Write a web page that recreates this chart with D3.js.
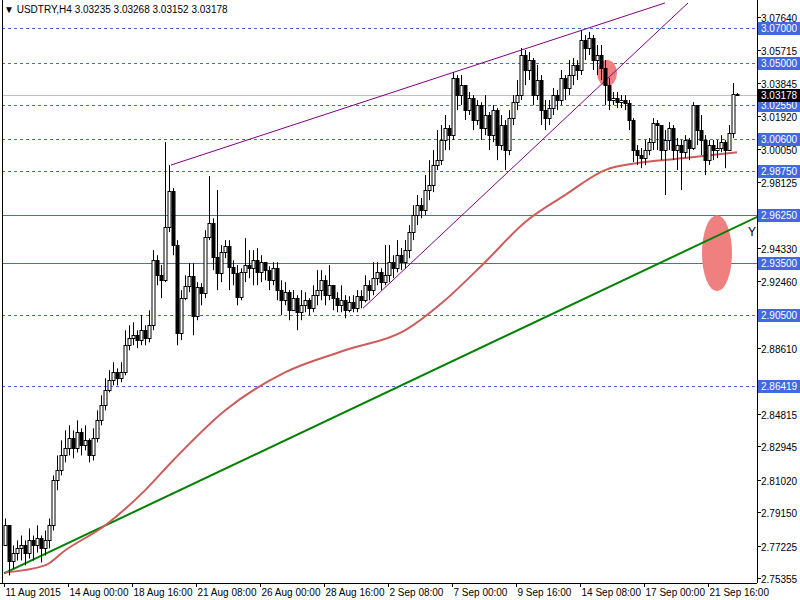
<!DOCTYPE html>
<html><head><meta charset="utf-8">
<script src="https://cdn.jsdelivr.net/npm/d3@7"></script>
<style>body{margin:0;background:#fff}svg{display:block}text{font-family:"Liberation Sans",Arial,sans-serif}</style>
</head><body><svg id="c" width="800" height="600"></svg>
<script>
const firstOpen = 2.7723;
const closes = [2.7838,2.7636,2.7682,2.7706,2.7723,2.7682,2.7752,2.7723,2.7763,2.7706,2.7752,2.7838,
2.8097,2.8155,2.8241,2.8282,2.8339,2.8282,2.8374,2.8299,2.8328,2.8241,2.8339,2.8443,
2.8529,2.8616,2.8673,2.8719,2.8685,2.8719,2.8875,2.8915,2.8932,2.8904,2.8961,2.8915,2.8990,
2.9364,2.9278,2.9249,2.9554,2.9762,2.9451,2.8944,2.9146,2.9215,2.9272,2.9042,2.9209,2.9174,
2.9497,2.9578,2.9382,2.9290,2.9410,2.9445,2.9324,2.9290,2.9151,2.9295,2.9336,2.9318,2.9364,
2.9295,2.9353,2.9307,2.9249,2.9318,2.9192,2.9134,2.9180,2.9076,2.9146,2.9065,2.9105,2.9134,
2.9088,2.9163,2.9192,2.9249,2.9163,2.9220,2.9146,2.9105,2.9134,2.9076,2.9122,2.9088,2.9157,
2.9134,2.9220,2.9192,2.9261,2.9295,2.9238,2.9278,2.9353,2.9318,2.9393,2.9353,2.9422,2.9526,
2.9624,2.9681,2.9652,2.9768,2.9796,2.9912,2.9940,3.0056,3.0125,3.0084,3.0413,3.0315,3.0372,
3.0228,3.0298,3.0171,3.0257,3.0125,3.0200,3.0084,3.0228,3.0027,3.0142,2.9998,3.0182,3.0274,
3.0315,3.0545,3.0459,3.0516,3.0315,3.0401,3.0228,3.0182,3.0240,3.0315,3.0286,3.0413,3.0355,
3.0430,3.0488,3.0459,3.0632,3.0586,3.0643,3.0516,3.0545,3.0470,3.0372,3.0286,3.0298,3.0274,
3.0286,3.0269,3.0171,2.9998,2.9969,2.9952,2.9998,3.0044,3.0154,3.0142,2.9998,3.0056,3.0125,
2.9998,3.0027,2.9986,3.0056,3.0010,3.0257,3.0113,3.0056,2.9940,3.0027,2.9998,3.0010,3.0044,
2.9998,3.0096,3.03235,3.03178];
const highs = [2.7878,2.7838,2.7723,2.7752,2.7780,2.7752,2.7821,2.7780,2.7838,2.7780,2.7809,2.7878,
2.8126,2.8241,2.8328,2.8385,2.8414,2.8385,2.8443,2.8397,2.8414,2.8339,2.8397,2.8500,
2.8587,2.8685,2.8731,2.8777,2.8742,2.8777,2.8961,2.8990,2.9007,2.8961,2.9048,2.8990,2.9076,
2.9422,2.9393,2.9336,3.0044,2.9912,2.9779,2.9480,2.9192,2.9278,2.9347,2.9347,2.9238,2.9232,
2.9537,2.9848,2.9606,2.9768,2.9451,2.9480,2.9480,2.9364,2.9336,2.9318,2.9491,2.9422,2.9422,
2.9434,2.9393,2.9353,2.9330,2.9353,2.9353,2.9249,2.9238,2.9192,2.9192,2.9163,2.9192,2.9180,
2.9146,2.9220,2.9307,2.9307,2.9278,2.9336,2.9220,2.9180,2.9220,2.9163,2.9157,2.9163,2.9192,
2.9192,2.9278,2.9249,2.9353,2.9353,2.9318,2.9451,2.9451,2.9393,2.9480,2.9434,2.9480,2.9566,
2.9681,2.9739,2.9722,2.9854,2.9940,2.9998,3.0113,3.0142,3.0200,3.0142,3.0447,3.0430,3.0430,
3.0355,3.0332,3.0315,3.0286,3.0274,3.0315,3.0217,3.0257,3.0240,3.0200,3.0171,3.0228,3.0315,
3.0401,3.0586,3.0574,3.0562,3.0528,3.0488,3.0430,3.0286,3.0286,3.0355,3.0344,3.0459,3.0430,
3.0516,3.0528,3.0516,3.0689,3.0660,3.0678,3.0660,3.0603,3.0603,3.0516,3.0413,3.0332,3.0332,
3.0315,3.0315,3.0286,3.0182,3.0027,3.0010,3.0056,3.0067,3.0182,3.0171,3.0142,3.0113,3.0159,
3.0142,3.0067,3.0056,3.0084,3.0067,3.0274,3.0257,3.0200,3.0084,3.0056,3.0056,3.0056,3.0084,
3.0056,3.0142,3.0384,3.03268];
const lows = [2.7723,2.7550,2.7590,2.7636,2.7636,2.7608,2.7648,2.7636,2.7682,2.7625,2.7665,2.7706,
2.7809,2.8040,2.8126,2.8201,2.8241,2.8224,2.8258,2.8241,2.8270,2.8201,2.8212,2.8316,
2.8414,2.8500,2.8604,2.8644,2.8644,2.8662,2.8702,2.8846,2.8875,2.8858,2.8875,2.8875,2.8892,
2.8961,2.9220,2.9146,2.9238,2.9526,2.9393,2.8875,2.8904,2.9134,2.9180,2.8932,2.9019,2.9105,
2.9146,2.9480,2.9307,2.9192,2.9238,2.9376,2.9192,2.9220,2.9105,2.9134,2.9238,2.9261,2.9220,
2.9220,2.9238,2.9249,2.9192,2.9220,2.9134,2.9048,2.9105,2.9019,2.9105,2.8961,2.9019,2.9065,
2.9048,2.9065,2.9105,2.9134,2.9105,2.9134,2.9076,2.9065,2.9065,2.9030,2.9065,2.9065,2.9065,
2.9088,2.9122,2.9134,2.9163,2.9220,2.9192,2.9220,2.9238,2.9261,2.9295,2.9307,2.9318,2.9376,
2.9480,2.9566,2.9606,2.9624,2.9710,2.9756,2.9883,2.9912,2.9998,2.9998,3.0056,3.0228,3.0257,
3.0171,3.0200,3.0113,3.0142,3.0056,3.0084,2.9998,3.0044,2.9940,2.9998,2.9883,2.9969,3.0142,
3.0228,3.0286,3.0372,3.0401,3.0257,3.0286,3.0142,3.0113,3.0142,3.0200,3.0228,3.0257,3.0286,
3.0315,3.0372,3.0401,3.0430,3.0516,3.0545,3.0459,3.0430,3.0401,3.0257,3.0228,3.0257,3.0240,
3.0240,3.0228,3.0113,2.9929,2.9912,2.9894,2.9912,2.9969,2.9998,2.9998,2.9940,2.9739,2.9998,
2.9940,2.9883,2.9768,2.9952,2.9940,2.9998,3.0027,2.9969,2.9854,2.9912,2.9940,2.9952,2.9986,
2.9894,2.9998,3.0067,3.03152];
const maBars = [0,10,15,25,35,42,55,70,85,100,110,120,130,140,150,160,170,183];
const maVals = [2.7567,2.7608,2.7694,2.7838,2.8040,2.8212,2.8500,2.8719,2.8846,2.8961,2.9134,2.9353,2.9583,2.9739,2.9883,2.9929,2.9952,2.9986];
const axisTicks = [3.07640,3.05715,3.03845,3.01920,3.00050,2.98125,2.94330,2.92460,2.88610,2.84815,2.82945,2.81020,2.79150,2.77225,2.75355];
const dashedLevels = [3.07000,3.05000,3.02550,3.00600,2.98750,2.90500,2.86419];
const solidLevels = [2.96250,2.93500];
const lastPrice = 3.03178;
const dateLabels = ["11 Aug 2015","14 Aug 00:00","18 Aug 16:00","21 Aug 08:00","26 Aug 00:00","28 Aug 16:00","2 Sep 08:00","7 Sep 00:00","9 Sep 16:00","14 Sep 08:00","17 Sep 00:00","21 Sep 16:00"];
const dateBars = [0,16,32,48,64,80,96,112,128,144,160,176];
const trendLines = [
 {b0:-0.25,p0:2.7562,b1:189,p1:2.9624,color:"#008000",w:2},
 {b0:41.5,p0:2.9912,b1:165,p1:3.0845,color:"#800080",w:1},
 {b0:89.5,p0:2.9088,b1:170.75,p1:3.0845,color:"#800080",w:1}];
const marks = [{b:150.5,p:3.0442,rx:10,ry:13},{b:178,p:2.9405,rx:15,ry:38}];

const svg = d3.select("#c");
const L=2,R=757,T=2,B=583;
const x = d3.scaleLinear().domain([0,182]).range([5,733]);
const y = d3.scaleLinear().domain([2.75355,3.0764]).range([578,17]);
const fmt = d3.format(".5f");
svg.append("clipPath").attr("id","cp").append("rect").attr("x",L).attr("y",T).attr("width",R-L).attr("height",B-T);
const g = svg.append("g").attr("clip-path","url(#cp)");

dashedLevels.forEach(v=>g.append("line").attr("x1",L).attr("x2",R).attr("y1",Math.round(y(v))+0.5).attr("y2",Math.round(y(v))+0.5).attr("stroke","#4169e1").attr("stroke-dasharray","3,3"));
solidLevels.forEach(v=>g.append("line").attr("x1",L).attr("x2",R).attr("y1",Math.round(y(v))+0.5).attr("y2",Math.round(y(v))+0.5).attr("stroke","#4169e1"));
g.append("line").attr("x1",L).attr("x2",R).attr("y1",Math.round(y(lastPrice))+0.5).attr("y2",Math.round(y(lastPrice))+0.5).attr("stroke","#c0c0c0");

marks.forEach(m=>g.append("ellipse").attr("cx",x(m.b)).attr("cy",y(m.p)).attr("rx",m.rx).attr("ry",m.ry).attr("fill","#f08080"));

trendLines.forEach(t=>g.append("line").attr("x1",x(t.b0)).attr("y1",y(t.p0)).attr("x2",x(t.b1)).attr("y2",y(t.p1)).attr("stroke",t.color).attr("stroke-width",t.w));

const ma = maBars.map((b,i)=>[b,maVals[i]]);
g.append("path").attr("d",d3.line().x(d=>x(d[0])).y(d=>y(d[1])).curve(d3.curveMonotoneX)(ma)).attr("fill","none").attr("stroke","#cd5c5c").attr("stroke-width",2);

closes.forEach((c,i)=>{
  const o = i===0?firstOpen:closes[i-1];
  const cx = Math.round(x(i))+0.5;
  g.append("line").attr("x1",cx).attr("x2",cx).attr("y1",y(highs[i])).attr("y2",y(lows[i])).attr("stroke","#000");
  const top=Math.round(y(Math.max(o,c))), bot=Math.round(y(Math.min(o,c)));
  g.append("rect").attr("x",cx-1.5).attr("y",top+0.5).attr("width",3).attr("height",Math.max(0,bot-top))
   .attr("fill",c>=o?"#fff":"#000").attr("stroke","#000");
});

g.append("text").attr("x",748).attr("y",236).attr("font-size",12).attr("fill","#000").text("Y");

svg.append("line").attr("x1",R+0.5).attr("x2",R+0.5).attr("y1",0).attr("y2",B).attr("stroke","#000");
svg.append("line").attr("x1",0).attr("x2",R).attr("y1",B+0.5).attr("y2",B+0.5).attr("stroke","#000");
svg.append("line").attr("x1",L+0.5).attr("x2",L+0.5).attr("y1",0).attr("y2",B).attr("stroke","#000");

axisTicks.forEach(v=>{
  const yy=Math.round(y(v))+0.5;
  svg.append("line").attr("x1",R).attr("x2",R+4).attr("y1",yy).attr("y2",yy).attr("stroke","#000");
  svg.append("text").attr("x",761).attr("y",yy+4).attr("font-size",10).text(fmt(v));
});
function label(v,bg){
  const yy=Math.round(y(v));
  svg.append("rect").attr("x",758).attr("y",yy-6).attr("width",42).attr("height",13).attr("fill",bg);
  svg.append("text").attr("x",761).attr("y",yy+4).attr("font-size",10).attr("fill","#fff").text(fmt(v));
}
dashedLevels.concat(solidLevels).forEach(v=>label(v,"#4169e1"));
label(lastPrice,"#000");

dateBars.forEach((b,i)=>{
  const xx=Math.round(x(b))-0.5;
  svg.append("line").attr("x1",xx).attr("x2",xx).attr("y1",B).attr("y2",B+4).attr("stroke","#000");
  svg.append("text").attr("x",xx+1).attr("y",596).attr("font-size",10).text(dateLabels[i]);
});
svg.append("text").attr("x",4).attr("y",13).attr("font-size",10).text("\u25BC USDTRY,H4  3.03235 3.03268 3.03152 3.03178");
</script></body></html>
